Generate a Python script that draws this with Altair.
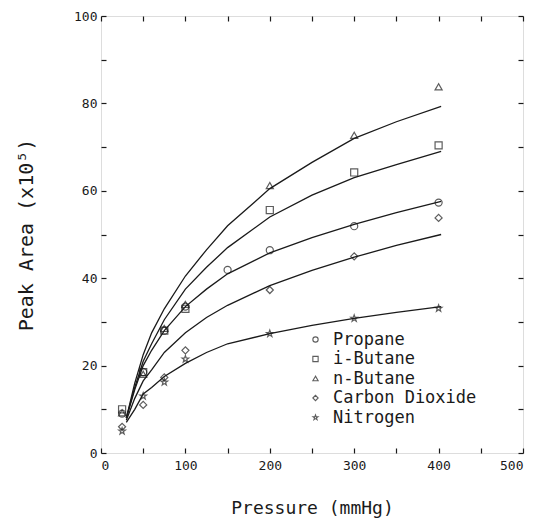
import altair as alt
import pandas as pd

# ---- data ----
series_names = ["Propane", "i-Butane", "n-Butane", "Carbon Dioxide", "Nitrogen"]

propane_p = [25, 50, 75, 100, 150, 200, 300, 400]
propane_v = [9.0, 18.5, 28.0, 33.5, 41.9, 46.4, 51.9, 57.3]

ibutane_p = [25, 50, 75, 100, 200, 300, 400]
ibutane_v = [10.0, 18.5, 28.0, 33.0, 55.6, 64.2, 70.4]

nbutane_p = [25, 50, 75, 100, 200, 300, 400]
nbutane_v = [9.2, 18.0, 28.5, 34.0, 61.2, 72.7, 83.8]

co2_p = [25, 50, 75, 100, 200, 300, 400]
co2_v = [6.0, 11.0, 17.3, 23.5, 37.3, 45.0, 53.8]

n2_p = [25, 50, 75, 100, 200, 300, 400]
n2_v = [5.0, 13.0, 16.2, 21.5, 27.3, 30.8, 33.1]

# fitted curves
curve_p = [30, 40, 50, 60, 75, 100, 125, 150, 200, 250, 300, 350, 403]
curve_propane = [8.0, 14.5, 20.0, 23.5, 28.0, 33.5, 37.5, 41.0, 45.8, 49.3, 52.3, 55.0, 57.6]
curve_ibutane = [8.0, 15.0, 21.0, 25.0, 30.5, 37.5, 42.5, 47.0, 54.0, 59.0, 63.0, 66.0, 69.0]
curve_nbutane = [8.0, 16.0, 22.5, 27.5, 33.0, 40.5, 46.5, 52.0, 60.5, 66.5, 72.0, 75.8, 79.3]
curve_co2 = [7.5, 12.5, 16.5, 19.0, 23.0, 27.5, 31.0, 33.8, 38.3, 41.8, 44.8, 47.5, 50.0]
curve_n2 = [7.0, 10.0, 13.5, 15.0, 17.5, 20.5, 23.0, 25.0, 27.3, 29.2, 30.8, 32.2, 33.5]

x_ticks = [0, 50, 100, 150, 200, 250, 300, 350, 400, 450, 500]
y_ticks = [0, 10, 20, 30, 40, 50, 60, 70, 80, 90, 100]

# ---- tables ----
pts = []
for name, ps, vs in [("Propane", propane_p, propane_v), ("i-Butane", ibutane_p, ibutane_v),
                     ("n-Butane", nbutane_p, nbutane_v), ("Carbon Dioxide", co2_p, co2_v),
                     ("Nitrogen", n2_p, n2_v)]:
    for p, v in zip(ps, vs):
        pts.append({"gas": name, "P": p, "A": v})
pts = pd.DataFrame(pts)

cur = []
for name, vs in [("Propane", curve_propane), ("i-Butane", curve_ibutane),
                 ("n-Butane", curve_nbutane), ("Carbon Dioxide", curve_co2),
                 ("Nitrogen", curve_n2)]:
    for p, v in zip(curve_p, vs):
        cur.append({"gas": name, "P": p, "A": v})
cur = pd.DataFrame(cur)

STAR = "M0,-1L0.235,-0.324L0.951,-0.309L0.38,0.124L0.588,0.809L0,0.4L-0.588,0.809L-0.38,0.124L-0.951,-0.309L-0.235,-0.324Z"

MONO = "DejaVu Sans Mono"
INK = "#1a1a1a"

xscale = alt.Scale(domain=[0, 500], nice=False)
yscale = alt.Scale(domain=[0, 100], nice=False)

x_bottom = alt.Axis(orient="bottom", values=x_ticks, offset=-5, tickSize=5, domain=False,
                    labelExpr="datum.value % 100 == 0 ? datum.label : ''",
                    labelPadding=6, labelFont=MONO, labelFontSize=13, labelColor=INK,
                    tickColor=INK, tickWidth=1.2, grid=False,
                    title="Pressure (mmHg)", titleFont=MONO, titleFontSize=18,
                    titleFontWeight="normal", titleColor=INK, titleY=60, titleBaseline="middle")
y_left = alt.Axis(orient="left", values=y_ticks, offset=-5, tickSize=5, domain=False,
                  labelExpr="datum.value % 20 == 0 ? datum.label : ''",
                  labelPadding=4, labelFont=MONO, labelFontSize=13, labelColor=INK,
                  tickColor=INK, tickWidth=1.2, grid=False,
                  title="Peak Area (x10⁵)", titleFont=MONO, titleFontSize=20,
                  titleFontWeight="normal", titleColor=INK, titleX=-80, titleBaseline="middle")
x_top = alt.Axis(orient="top", values=x_ticks, offset=-5, tickSize=5, domain=False,
                 labels=False, title=None, grid=False, tickColor=INK, tickWidth=1.2)
y_right = alt.Axis(orient="right", values=y_ticks, offset=-5, tickSize=5, domain=False,
                   labels=False, title=None, grid=False, tickColor=INK, tickWidth=1.2)

lines = alt.Chart(cur).mark_line(color=INK, strokeWidth=1.3).encode(
    x=alt.X("P:Q", scale=xscale, axis=x_bottom),
    y=alt.Y("A:Q", scale=yscale, axis=y_left),
    detail="gas:N",
)

points = alt.Chart(pts).mark_point(filled=False, color=INK, strokeWidth=1.2, size=50).encode(
    x=alt.X("P:Q", scale=xscale, axis=x_top),
    y=alt.Y("A:Q", scale=yscale, axis=y_right),
    shape=alt.Shape("gas:N",
                    scale=alt.Scale(domain=series_names,
                                    range=["circle", "square", "triangle-up", "diamond", STAR]),
                    legend=alt.Legend(orient="none", legendX=206, legendY=315, title=None,
                                      labelFont=MONO, labelFontSize=17, labelColor=INK,
                                      symbolSize=28, symbolStrokeWidth=1.1,
                                      symbolStrokeColor=INK, symbolFillColor="transparent",
                                      labelOffset=9, rowPadding=1.5)),
)

chart = alt.layer(lines, points).properties(
    width=422, height=437,
    autosize=alt.AutoSizeParams(type="none"),
    padding={"left": 93, "top": 8, "right": 14, "bottom": 68},
).configure_view(stroke=INK, strokeWidth=1.5).configure(background="white")

chart.save("out.html", embed_options={"renderer": "svg", "actions": False})
